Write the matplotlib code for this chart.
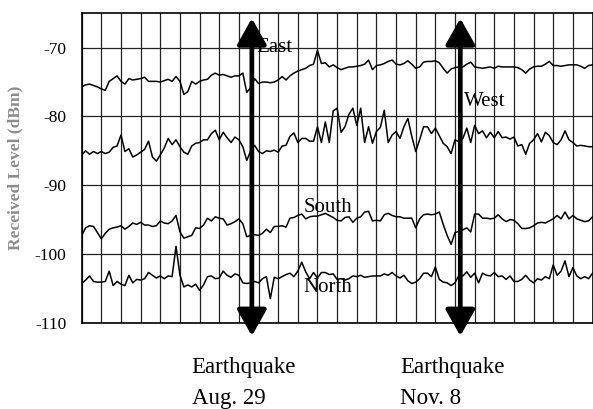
import numpy as np
import matplotlib
matplotlib.use('Agg')
import matplotlib.pyplot as plt

plt.rcParams['font.family'] = 'Liberation Serif'
plt.rcParams['axes.unicode_minus'] = False

# Received level (dBm), 5 samples per grid column
east = [-75.7, -75.4, -75.3, -75.5, -75.7, -76.0, -76.2, -74.9, -74.5, -74.1,
        -74.9, -75.3, -74.5, -74.7, -74.6, -74.5, -74.3, -74.9, -74.9, -74.9,
        -75.0, -74.8, -74.6, -74.9, -74.2, -74.9, -76.8, -76.4, -74.9, -75.3,
        -74.9, -74.7, -74.6, -74.0, -73.7, -74.0, -73.9, -74.1, -74.3, -74.1,
        -74.1, -73.7, -76.5, -75.8, -74.5, -75.2, -75.0, -75.0, -75.1, -75.0,
        -74.7, -74.2, -74.7, -74.1, -73.7, -73.4, -73.2, -73.0, -72.6, -72.4,
        -70.4, -72.3, -72.2, -72.8, -72.5, -72.9, -73.2, -73.0, -72.8, -72.8,
        -72.7, -72.6, -72.4, -71.8, -73.2, -72.6, -72.5, -72.3, -72.0, -71.8,
        -72.4, -72.5, -72.3, -71.9, -72.4, -73.0, -72.8, -72.1, -72.0, -72.0,
        -71.9, -72.2, -73.0, -73.7, -73.1, -72.9, -72.8, -72.8, -72.4, -72.1,
        -72.8, -72.9, -73.0, -72.9, -72.8, -73.0, -72.7, -72.8, -72.8, -72.8,
        -72.8, -72.9, -73.2, -73.7, -73.1, -72.8, -72.7, -72.7, -72.4, -72.0,
        -72.6, -72.6, -72.7, -72.6, -72.5, -72.5, -72.5, -72.7, -73.0, -72.6,
        -72.5]
west = [-85.6, -85.0, -85.5, -85.1, -85.4, -85.1, -85.4, -85.2, -84.5, -84.3,
        -82.7, -85.1, -84.7, -85.9, -85.6, -85.2, -84.8, -83.6, -85.9, -86.5,
        -85.6, -84.6, -83.2, -84.1, -83.4, -84.4, -85.2, -85.5, -84.3, -83.9,
        -83.8, -83.4, -83.4, -82.5, -82.0, -83.4, -82.3, -83.1, -83.8, -83.0,
        -83.4, -84.4, -86.4, -85.0, -84.2, -85.1, -85.4, -85.0, -85.1, -84.9,
        -85.2, -84.3, -84.2, -82.9, -82.4, -83.8, -83.2, -83.2, -83.6, -83.6,
        -81.5, -83.8, -80.8, -83.8, -79.2, -78.8, -82.3, -81.5, -79.7, -78.8,
        -81.3, -78.8, -83.8, -81.5, -83.9, -82.2, -81.6, -79.1, -83.8, -82.7,
        -82.2, -83.2, -81.5, -80.3, -82.9, -85.1, -83.4, -81.5, -81.5, -82.5,
        -81.7, -82.8, -83.9, -84.4, -85.4, -83.4, -83.7, -83.2, -81.7, -83.8,
        -81.3, -82.5, -82.1, -83.1, -82.3, -83.1, -82.2, -83.1, -83.0, -83.3,
        -83.0, -84.3, -84.1, -85.5, -83.9, -83.4, -82.5, -83.7, -82.3, -82.8,
        -83.8, -84.1, -83.4, -82.1, -83.4, -83.8, -84.3, -84.2, -84.3, -84.4,
        -84.4]
south = [-97.3, -96.2, -95.9, -96.0, -96.9, -97.8, -97.0, -96.4, -96.2, -96.1,
         -95.9, -96.4, -96.0, -95.5, -95.7, -95.4, -95.8, -95.8, -96.0, -95.9,
         -95.2, -95.5, -95.6, -95.2, -94.4, -96.8, -97.7, -97.5, -97.3, -96.2,
         -96.3, -95.8, -94.8, -95.2, -94.6, -94.8, -94.9, -95.8, -95.6, -95.3,
         -94.9, -95.6, -97.5, -97.3, -97.2, -97.3, -97.0, -96.4, -96.9, -96.0,
         -96.0, -95.9, -96.1, -94.8, -94.7, -94.4, -94.2, -94.9, -94.6, -94.5,
         -94.5, -94.3, -94.1, -94.4, -94.7, -95.1, -95.2, -94.7, -94.6, -95.4,
         -94.8, -94.6, -93.9, -93.8, -95.2, -95.1, -95.2, -94.3, -94.1, -94.4,
         -94.6, -94.6, -94.8, -94.8, -94.8, -96.2, -94.9, -94.3, -94.2, -94.3,
         -94.2, -93.9, -95.7, -97.3, -98.6, -96.9, -96.7, -96.5, -96.2, -96.8,
         -94.2, -94.2, -94.8, -94.8, -94.9, -94.8, -94.3, -94.9, -95.3, -95.0,
         -95.1, -95.6, -96.3, -96.3, -96.2, -95.9, -95.5, -95.4, -95.5, -95.2,
         -94.9, -94.4, -94.9, -93.9, -94.9, -94.4, -94.9, -95.1, -95.3, -95.2,
         -94.6]
north = [-104.3, -103.8, -103.2, -104.0, -104.1, -104.1, -104.0, -102.5, -104.6, -104.0,
         -104.4, -104.6, -103.1, -104.2, -103.7, -103.8, -103.6, -102.7, -103.1, -103.5,
         -103.2, -103.6, -103.2, -103.3, -98.9, -103.1, -104.8, -104.5, -104.8, -104.4,
         -105.3, -104.5, -103.3, -103.2, -103.6, -103.5, -102.5, -103.1, -103.4, -102.9,
         -103.1, -104.2, -104.3, -104.2, -104.0, -104.2, -103.6, -103.3, -106.5, -103.4,
         -103.6, -103.3, -103.0, -102.8, -103.3, -102.5, -101.2, -102.6, -103.6, -102.7,
         -103.5, -102.7, -102.7, -103.0, -102.9, -103.7, -103.6, -103.8, -103.6, -103.2,
         -103.3, -103.1, -103.4, -103.3, -103.2, -103.2, -103.2, -102.9, -103.1, -102.7,
         -103.2, -103.5, -103.1, -103.9, -104.3, -104.1, -103.6, -102.8, -102.8, -103.3,
         -101.9, -103.7, -104.1, -104.2, -104.6, -104.2, -103.1, -103.2, -102.6, -103.4,
         -102.8, -104.2, -102.8, -103.1, -103.2, -102.7, -103.3, -103.2, -103.7, -103.2,
         -104.0, -104.0, -103.7, -103.1, -103.8, -104.2, -103.6, -103.8, -103.3, -103.6,
         -101.6, -103.1, -102.5, -101.0, -103.3, -102.0, -103.2, -103.6, -103.3, -103.6,
         -102.8]

# earthquake events (sample position) and their labels
quake_x = [43.3, 96.35]
quake_name = ['Earthquake', 'Earthquake']
quake_date = ['Aug. 29', 'Nov. 8']

# direction labels: (text, x, y)
dir_labels = [('East', 44.4, -70.7), ('West', 97.2, -78.45),
              ('South', 56.4, -93.85), ('North', 56.4, -105.5)]

yticks = [-110, -100, -90, -80, -70]

fig = plt.figure(figsize=(5.93, 4.09), dpi=100)
ax = fig.add_axes([0.1378, 0.211, 0.8614, 0.7565])

x = np.arange(len(east))
for series in (east, west, south, north):
    ax.plot(x, series, color='black', lw=1.1, zorder=3)

ax.set_xlim(0, 130)
ax.set_ylim(-110, -65)
ax.set_xticks(np.arange(0, 131, 5))
ax.set_yticks(yticks)
ax.set_yticklabels([str(v) for v in yticks])
ax.grid(True, color='#222222', lw=0.9, zorder=1)
ax.tick_params(length=0, labelbottom=False, labelsize=12.5, pad=11)
for sp in ax.spines.values():
    sp.set_linewidth(1.2)

# double-headed arrows at the earthquakes
for qx in quake_x:
    ax.annotate('', xy=(qx, -65.73), xytext=(qx, -111.93),
                arrowprops=dict(arrowstyle='<|-|>,head_length=1.6,head_width=0.9',
                                lw=3.4, color='black', shrinkA=0, shrinkB=0,
                                clip_on=False),
                annotation_clip=False, zorder=5)

for name, date, qx in zip(quake_name, quake_date, quake_x):
    ax.text(qx - 15.3, -117.36, name, fontsize=16.5, va='baseline', clip_on=False)
    ax.text(qx - 15.3, -121.83, date, fontsize=16.5, va='baseline', clip_on=False)

for txt, tx, ty in dir_labels:
    ax.text(tx, ty, txt, fontsize=15, va='baseline', zorder=6)

fig.text(15 / 593, 1 - 168 / 409, 'Received Level (dBm)', rotation=90,
         ha='center', va='center', fontsize=12.5, fontweight='bold', color='#8c8c8c')

fig.savefig('out.png', dpi=100)
